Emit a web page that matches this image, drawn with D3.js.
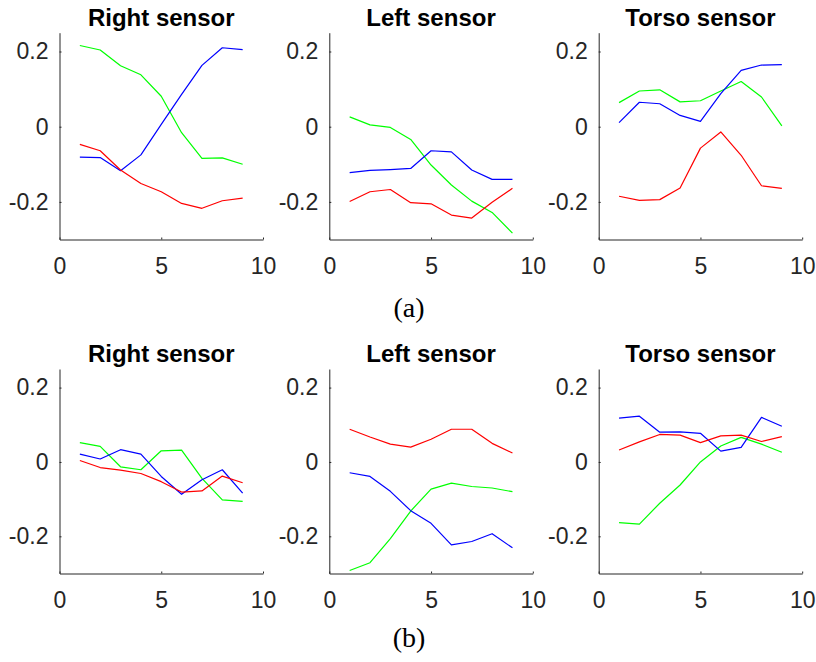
<!DOCTYPE html>
<html>
<head>
<meta charset="utf-8">
<script src="https://cdn.jsdelivr.net/npm/d3@7"></script>
<style>
  body { margin: 0; background: #fff; }
  svg { display: block; }
  .tick text { font-family: "Liberation Sans", Arial, sans-serif; font-size: 23px; fill: #262626; }
  .domain, .tick line { stroke: #262626; stroke-width: 1; }
  .title { font-family: "Liberation Sans", Arial, sans-serif; font-size: 24px; font-weight: bold; fill: #000; }
  .caption { font-family: "Liberation Serif", "DejaVu Serif", serif; font-size: 28px; fill: #000; }
</style>
</head>
<body>
<svg id="chart" width="816" height="662"></svg>
<script>
// sample index 1..9
let xs = [1, 2, 3, 4, 5, 6, 7, 8, 9];

let titles = ['Right sensor', 'Left sensor', 'Torso sensor'];
let captions = ['(a)', '(b)'];
let xTicks = [0, 5, 10];
let yTicks = [-0.2, 0, 0.2];

// (a) row
let rightA_red   = [-0.047, -0.064, -0.115, -0.151, -0.173, -0.204, -0.217, -0.197, -0.190];
let rightA_green = [0.216, 0.204, 0.162, 0.138, 0.081, -0.016, -0.084, -0.083, -0.100];
let rightA_blue  = [-0.081, -0.082, -0.117, -0.075, 0.006, 0.086, 0.163, 0.210, 0.205];

let leftA_red   = [-0.199, -0.173, -0.167, -0.202, -0.205, -0.235, -0.243, -0.201, -0.164];
let leftA_green = [0.026, 0.005, -0.002, -0.034, -0.102, -0.155, -0.198, -0.228, -0.283];
let leftA_blue  = [-0.122, -0.116, -0.114, -0.111, -0.064, -0.067, -0.115, -0.140, -0.140];

let torsoA_red   = [-0.185, -0.196, -0.194, -0.163, -0.057, -0.014, -0.076, -0.157, -0.164];
let torsoA_green = [0.064, 0.095, 0.098, 0.066, 0.069, 0.095, 0.120, 0.079, 0.002];
let torsoA_blue  = [0.011, 0.065, 0.061, 0.030, 0.014, 0.088, 0.150, 0.164, 0.165];

// (b) row
let rightB_red   = [0.004, -0.015, -0.022, -0.031, -0.053, -0.081, -0.078, -0.038, -0.056];
let rightB_green = [0.052, 0.042, -0.013, -0.021, 0.030, 0.032, -0.044, -0.102, -0.106];
let rightB_blue  = [0.021, 0.008, 0.033, 0.021, -0.039, -0.087, -0.048, -0.021, -0.084];

let leftB_red   = [0.088, 0.067, 0.048, 0.040, 0.061, 0.088, 0.088, 0.050, 0.024];
let leftB_green = [-0.292, -0.271, -0.206, -0.132, -0.073, -0.057, -0.066, -0.070, -0.080];
let leftB_blue  = [-0.029, -0.039, -0.079, -0.131, -0.165, -0.223, -0.214, -0.193, -0.231];

let torsoB_red   = [0.032, 0.054, 0.074, 0.072, 0.052, 0.070, 0.072, 0.055, 0.068];
let torsoB_green = [-0.163, -0.167, -0.111, -0.062, 0.000, 0.043, 0.066, 0.048, 0.026];
let torsoB_blue  = [0.118, 0.123, 0.080, 0.081, 0.077, 0.029, 0.039, 0.120, 0.096];

let panels = [
    [[rightA_green, rightA_blue, rightA_red], [leftA_green, leftA_blue, leftA_red], [torsoA_green, torsoA_blue, torsoA_red]],
    [[rightB_green, rightB_blue, rightB_red], [leftB_green, leftB_blue, leftB_red], [torsoB_green, torsoB_blue, torsoB_red]]
];
let colors = ['#00ff00', '#0000ff', '#ff0000'];

let svg = d3.select('#chart');
let colLeft = [59.5, 329.3, 598.7];
let plotW = 203.5;
let rowTop = [32.7, 369];
let rowBottom = [239.5, 573.5];
let titleY = [26, 361.5];
let captionY = [317, 647];

let yFmt = d => d === 0 ? '0' : d.toFixed(1);

panels.forEach((row, r) => {
    row.forEach((series, c) => {
        let xscale = d3.scaleLinear().domain([0, 10]).range([0, plotW]);
        let yscale = d3.scaleLinear().domain([-0.3, 0.25]).range([rowBottom[r] - rowTop[r], 0]);
        let g = svg.append('g').attr('transform', 'translate(' + colLeft[c] + ',' + rowTop[r] + ')');

        let line = d3.line()
            .x((d, i) => xscale(xs[i]))
            .y(d => yscale(d));
        series.forEach((vals, k) => {
            g.append('path')
                .datum(vals)
                .attr('fill', 'none')
                .attr('stroke', colors[k])
                .attr('stroke-width', 1.2)
                .attr('stroke-linejoin', 'round')
                .attr('d', line);
        });

        let yaxis = d3.axisLeft(yscale).tickValues(yTicks).tickFormat(yFmt)
            .tickSizeInner(-2).tickSizeOuter(0).tickPadding(11);
        let xaxis = d3.axisBottom(xscale).tickValues(xTicks)
            .tickSizeInner(-2).tickSizeOuter(0).tickPadding(18);
        g.append('g').call(yaxis).call(a => a.selectAll('text').attr('font-family', null).attr('font-size', null));
        g.append('g').attr('transform', 'translate(0,' + (rowBottom[r] - rowTop[r]) + ')')
            .call(xaxis).call(a => a.selectAll('text').attr('font-family', null).attr('font-size', null));

        svg.append('text')
            .attr('class', 'title')
            .attr('x', colLeft[c] + plotW / 2)
            .attr('y', titleY[r])
            .attr('text-anchor', 'middle')
            .text(titles[c]);
    });
    svg.append('text')
        .attr('class', 'caption')
        .attr('x', 409)
        .attr('y', captionY[r])
        .attr('text-anchor', 'middle')
        .text(captions[r]);
});
</script>
</body>
</html>
